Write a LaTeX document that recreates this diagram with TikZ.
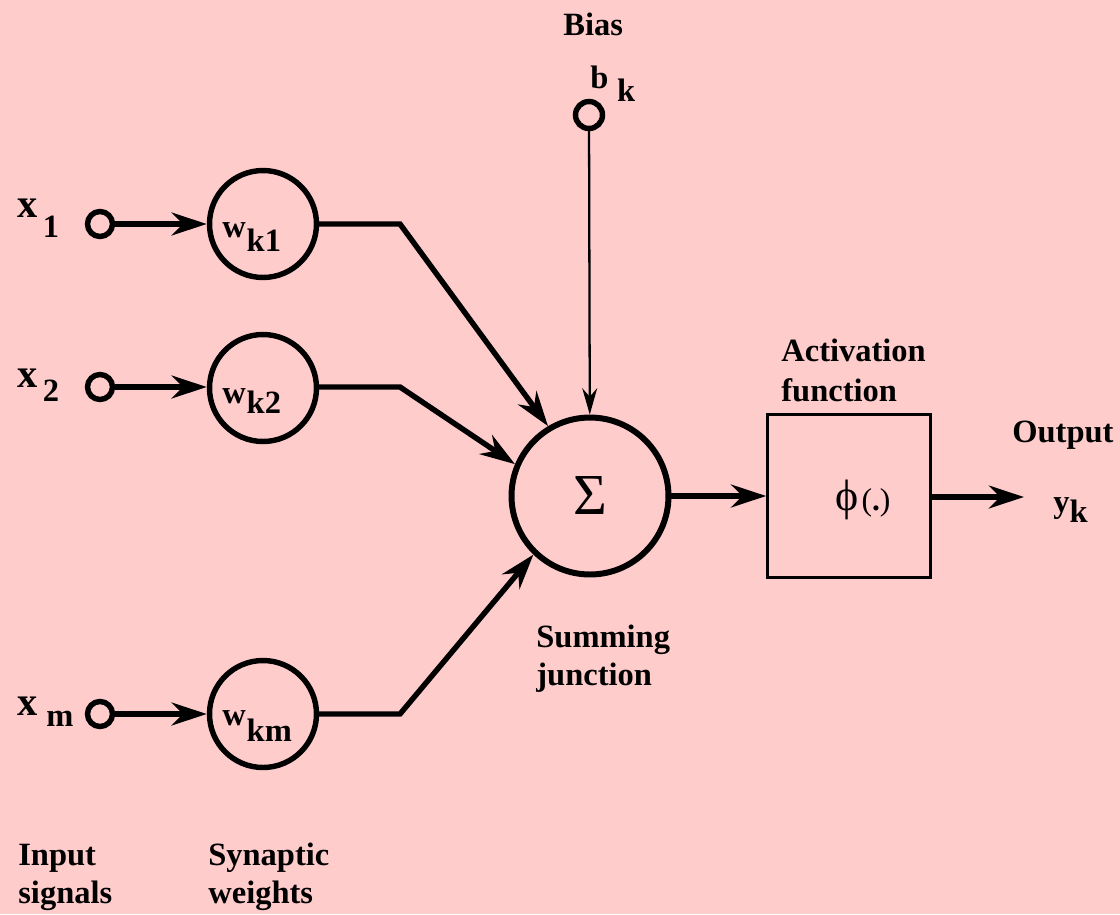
\documentclass[tikz,border=0pt]{standalone}
\usepackage{fontspec}
\setmainfont{Liberation Serif}
\usetikzlibrary{arrows.meta}
\definecolor{bgpink}{RGB}{255,204,204}
\begin{document}
\begin{tikzpicture}[x=0.02cm,y=-0.02cm,
  lbl/.style={font=\fontsize{18.5}{22}\selectfont\bfseries, inner sep=0pt, anchor=base west},
  inport/.style={circle, draw, line width=3.1pt, minimum size=0.5cm, inner sep=0pt},
  weight/.style={circle, draw, line width=3.1pt, minimum size=2.14cm, inner sep=0pt},
  sumnode/.style={circle, draw, line width=3.4pt, minimum size=3.14cm, inner sep=0pt,
    font=\fontsize{33}{35}\selectfont},
  actbox/.style={draw, line width=1.5pt, minimum size=3.26cm, inner sep=0pt},
  thickarrow/.style={line width=3.1pt, line join=miter, -{Stealth[length=20pt,width=13pt]}},
  thinarrow/.style={line width=1.3pt, -{Stealth[length=15pt,width=8.5pt]}}]
\fill[bgpink] (0,0) rectangle (1120,914);
\useasboundingbox (0,0) rectangle (1120,914);

% input ports
\node[inport] (in1) at (100,224) {};
\node[inport] (in2) at (100,387) {};
\node[inport] (inm) at (100,714) {};
% weights
\node[weight] (w1) at (263,224) {};
\node[weight] (w2) at (263,388) {};
\node[weight] (wm) at (263,714) {};
% summing junction
\node[sumnode] (sum) at (590,496) {Σ};
% bias
\node[inport, minimum size=0.54cm] (bias) at (589,115) {};
% activation box
\node[actbox] (act) at (849,496) {};
\node[inner sep=0pt] (phi) at (863,500) {{\fontsize{25}{27}\selectfont ϕ}\,{\fontsize{18}{20}\selectfont(\textbf{.})}};
\coordinate (out) at (1024,497);

% bend points
\coordinate (b1) at (400,224);
\coordinate (b2) at (400,387);
\coordinate (bm) at (400,714);

% connectors
\draw[thickarrow] (in1) -- (w1);
\draw[thickarrow] (in2) -- (w2.west |- in2);
\draw[thickarrow] (inm) -- (wm);
\draw[thickarrow] (w1.east) -- (b1) -- (sum.121);
\draw[thickarrow] (w2.east |- b2) -- (b2) -- (sum.157);
\draw[thickarrow] (wm.east) -- (bm) -- (sum.226);
\draw[thinarrow] (bias) -- (sum);
\draw[thickarrow] (sum) -- (act);
\draw[thickarrow] (act.east |- out) -- (out);

% labels
\node[lbl] (tbias) at (563,35) {Bias};
\node[lbl] (tbk) at (590,88) {b\hspace{5pt}\raisebox{-7.9pt}{k}};
\node[lbl] (tx1) at (17,217) {{\fontsize{23}{25}\selectfont x}\hspace{3pt}\raisebox{-11.9pt}{1}};
\node[lbl] (tx2) at (17,387) {{\fontsize{23}{25}\selectfont x}\hspace{3pt}\raisebox{-8.5pt}{2}};
\node[lbl] (txm) at (17,715) {{\fontsize{23}{25}\selectfont x}\hspace{5pt}\raisebox{-6.8pt}{m}};
\node[lbl] (tw1) at (222,237) {w\hspace{0.5pt}\raisebox{-8.5pt}{k1}};
\node[lbl] (tw2) at (222,403) {w\hspace{0.5pt}\raisebox{-5.7pt}{k2}};
\node[lbl] (twm) at (222,725) {w\hspace{0.5pt}\raisebox{-9.4pt}{km}};
\node[lbl] (tsum1) at (536,647) {Summing};
\node[lbl] (tsum2) at (536,685) {junction};
\node[lbl] (tact1) at (781,361) {Activation};
\node[lbl] (tact2) at (781,401) {function};
\node[lbl] (tout) at (1012,442) {Output};
\node[lbl] (tyk) at (1053,512) {y\raisebox{-6.2pt}{k}};
\node[lbl] (tin1) at (18,865) {Input};
\node[lbl] (tin2) at (18,903) {signals};
\node[lbl] (tsyn1) at (208,865) {Synaptic};
\node[lbl] (tsyn2) at (208,903) {weights};
\end{tikzpicture}
\end{document}
